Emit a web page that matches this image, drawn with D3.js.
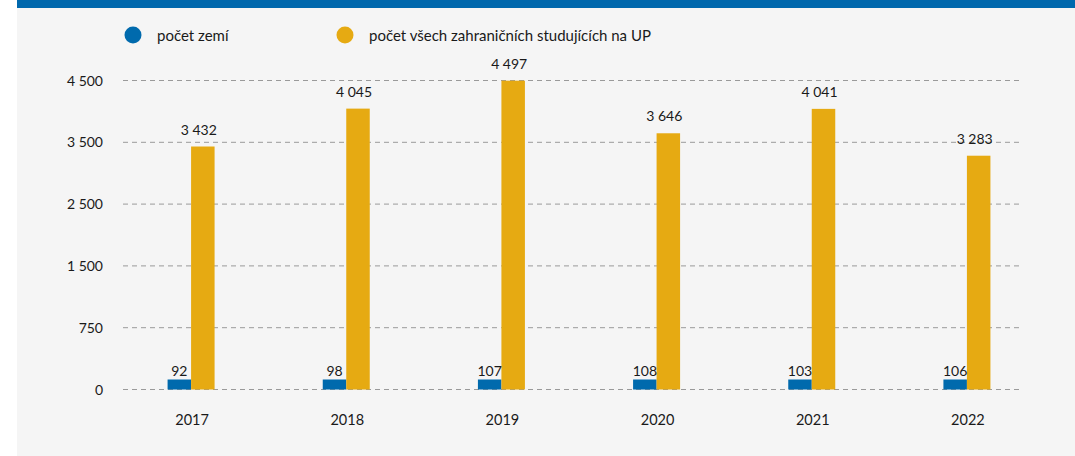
<!DOCTYPE html>
<html>
<head>
<meta charset="utf-8">
<script src="https://cdn.jsdelivr.net/npm/d3@7"></script>
<style>
  body { margin: 0; background: #fff; }
  svg { display: block; font-family: Lato, 'Open Sans', sans-serif; }
</style>
</head>
<body>
<svg id="mainsvg" width="1075" height="456"></svg>
<script>
const years = ['2017', '2018', '2019', '2020', '2021', '2022'];
const countries = [92, 98, 107, 108, 103, 106];
const students = [3432, 4045, 4497, 3646, 4041, 3283];
const tickValues = [0, 750, 1500, 2500, 3500, 4500];
const tickLabels = ['0', '750', '1 500', '2 500', '3 500', '4 500'];
const seriesNames = ['počet zemí', 'počet všech zahraničních studujících na UP'];
const colors = ['#006aad', '#e6aa12'];

const svg = d3.select('#mainsvg');
const width = +svg.attr('width');
const height = +svg.attr('height');

// background + top band
svg.append('rect').attr('x', 17).attr('y', 0).attr('width', width - 17).attr('height', height).attr('fill', '#f5f5f5');
svg.append('rect').attr('x', 17).attr('y', 0).attr('width', width - 17).attr('height', 8).attr('fill', '#0068ad');

// the axis is not linear: the ticks are evenly spaced
const yScale = d3.scaleLinear()
  .domain(tickValues)
  .range([389.5, 327.7, 265.9, 204.1, 142.3, 80.5]);

const xScale = d3.scaleBand()
  .domain(years)
  .range([113.5, 1044.5]);

const barW = 23.5;
const minH = 10; // small bars are drawn a little taller in the original

// grid
const grid = svg.append('g');
grid.selectAll('line').data(tickValues).join('line')
  .attr('x1', 123).attr('x2', 1023)
  .attr('y1', d => yScale(d)).attr('y2', d => yScale(d))
  .attr('stroke', '#9a9a9a').attr('stroke-width', 1)
  .attr('stroke-dasharray', '5,4');

// y tick labels
svg.append('g').selectAll('text').data(tickValues).join('text')
  .attr('x', 103).attr('y', d => yScale(d))
  .attr('dy', '0.36em')
  .attr('text-anchor', 'end')
  .attr('font-size', 14).attr('fill', '#1a1a1a')
  .text((d, i) => tickLabels[i]);

// bars
const cx = d => xScale(d) + xScale.bandwidth() / 2;
const blueH = i => Math.max(minH, yScale(0) - yScale(countries[i]));

svg.append('g').selectAll('rect').data(years).join('rect')
  .attr('x', d => cx(d) - barW)
  .attr('y', (d, i) => yScale(0) - blueH(i))
  .attr('width', barW)
  .attr('height', (d, i) => blueH(i))
  .attr('fill', colors[0]);

svg.append('g').selectAll('rect').data(years).join('rect')
  .attr('x', d => cx(d))
  .attr('y', (d, i) => yScale(students[i]))
  .attr('width', barW)
  .attr('height', (d, i) => yScale(0) - yScale(students[i]))
  .attr('fill', colors[1]);

const fmt = v => d3.format(',')(v).replace(/,/g, ' ');

// value labels
svg.append('g').selectAll('text').data(years).join('text')
  .attr('x', d => cx(d) - barW / 2)
  .attr('y', (d, i) => yScale(0) - blueH(i) - 4)
  .attr('text-anchor', 'middle')
  .attr('font-size', 14).attr('fill', '#1a1a1a')
  .text((d, i) => fmt(countries[i]));

svg.append('g').selectAll('text').data(years).join('text')
  .attr('x', d => cx(d) + barW / 2 - 4)
  .attr('y', (d, i) => yScale(students[i]) - 12)
  .attr('text-anchor', 'middle')
  .attr('font-size', 14).attr('fill', '#1a1a1a')
  .text((d, i) => fmt(students[i]));

// x labels
svg.append('g').selectAll('text').data(years).join('text')
  .attr('x', d => cx(d) + 1)
  .attr('y', 425)
  .attr('text-anchor', 'middle')
  .attr('font-size', 14.5).attr('fill', '#1a1a1a')
  .text(d => d);

// legend
const legendX = [133, 345];
const legend = svg.append('g').selectAll('g').data(seriesNames).join('g')
  .attr('transform', (d, i) => `translate(${legendX[i]}, 35)`);
legend.append('circle').attr('r', 8.5).attr('fill', (d, i) => colors[i]);
legend.append('text').attr('x', 24).attr('y', 6)
  .attr('font-size', 15).attr('fill', '#1a1a1a')
  .text(d => d);
</script>
</body>
</html>
